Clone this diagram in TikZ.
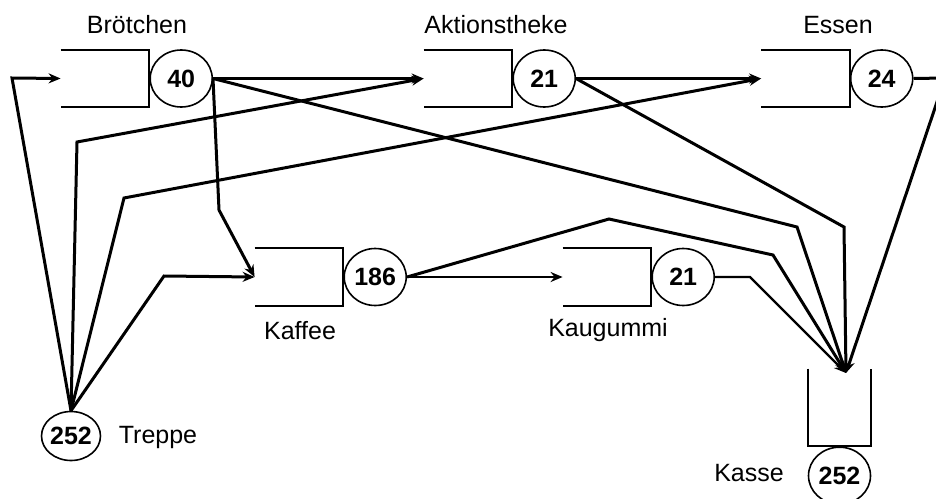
\documentclass[tikz,border=0pt]{standalone}
\usepackage{fontspec}
\setmainfont{Liberation Sans}
\usetikzlibrary{shapes.geometric,arrows.meta,positioning}

\begin{document}
\begin{tikzpicture}[
            x=0.5pt, y=-0.5pt,
            queue/.style={minimum width=44pt, minimum height=28.5pt, inner sep=0pt},
            server/.style={draw, ellipse, line width=0.8pt, minimum width=31pt, minimum height=28.5pt, inner sep=0pt, font=\fontsize{12.5}{14}\selectfont\bfseries},
            stationname/.style={font=\fontsize{12.5}{15}\selectfont},
            flow/.style={line width=1.5pt, -{Stealth[length=6pt, width=5pt]}}
        ]
            \useasboundingbox (0,0) rectangle (936,498);

            \node[queue] (broetchen) at (105,78.5) {};
            \node[queue] (aktion) at (468,78.5) {};
            \node[queue] (essen) at (805.5,78.5) {};
            \node[queue] (kaffee) at (299,277) {};
            \node[queue] (kaugummi) at (607,277) {};
            \node[queue, minimum width=31.5pt, minimum height=38.5pt] (kasse) at (839.5,407.5) {};

            \node[server, right=0pt of broetchen] (s40) {40};
            \node[server, right=0pt of aktion] (s21a) {21};
            \node[server, right=0pt of essen] (s24) {24};
            \node[server, right=0pt of kaffee] (s186) {186};
            \node[server, right=0pt of kaugummi] (s21k) {21};
            \node[server, below=0pt of kasse] (s252k) {252};
            \node[server, minimum width=27.5pt, minimum height=24.5pt] (treppe) at (71,436) {252};

            \node[stationname] (lbroetchen) at (137,25) {Brötchen};
            \node[stationname] (laktion) at (496,25) {Aktionstheke};
            \node[stationname] (lessen) at (838,25) {Essen};
            \node[stationname] (lkaffee) at (300,331) {Kaffee};
            \node[stationname] (lkaugummi) at (608,330) {Kaugummi};
            \node[stationname] (ltreppe) at (158,437) {Treppe};
            \node[stationname] (lkasse) at (749,473) {Kasse};

            \foreach \q in {broetchen, aktion, essen, kaffee, kaugummi}
                \draw[line width=1pt] (\q.north west) -- (\q.north east) -- (\q.south east) -- (\q.south west);
            \draw[line width=1pt] (kasse.north west) -- (kasse.south west) -- (kasse.south east) -- (kasse.north east);

            \coordinate (kin) at (846,373);

            \draw[flow] (treppe.north) -- (12,78) -- (broetchen.west);
            \draw[flow] (treppe.north) -- (77,142) -- (aktion.west);
            \draw[flow] (treppe.north) -- (124,198) -- (essen.west);
            \draw[flow] (treppe.north) -- (164,276) -- (kaffee.west);

            \draw[flow] (s40.east) -- (aktion.west);
            \draw[flow] (s40.east) -- (219,210) -- (kaffee.west);
            \draw[flow] (s40.east) -- (797,227) -- (kin);

            \draw[flow] (s21a.east) -- (essen.west);
            \draw[flow] (s21a.east) -- (844,227) -- (kin);

            \draw[flow] (s24.east) -- (945,78) -- (kin);

            \draw[flow, line width=1.1pt] (s186.east) -- (kaugummi.west);
            \draw[flow] (s186.east) -- (609,219) -- (773,255) -- (kin);

            \draw[flow, line width=1.1pt] (s21k.east) -- (750,277) -- (kin);

        \end{tikzpicture}
\end{document}
